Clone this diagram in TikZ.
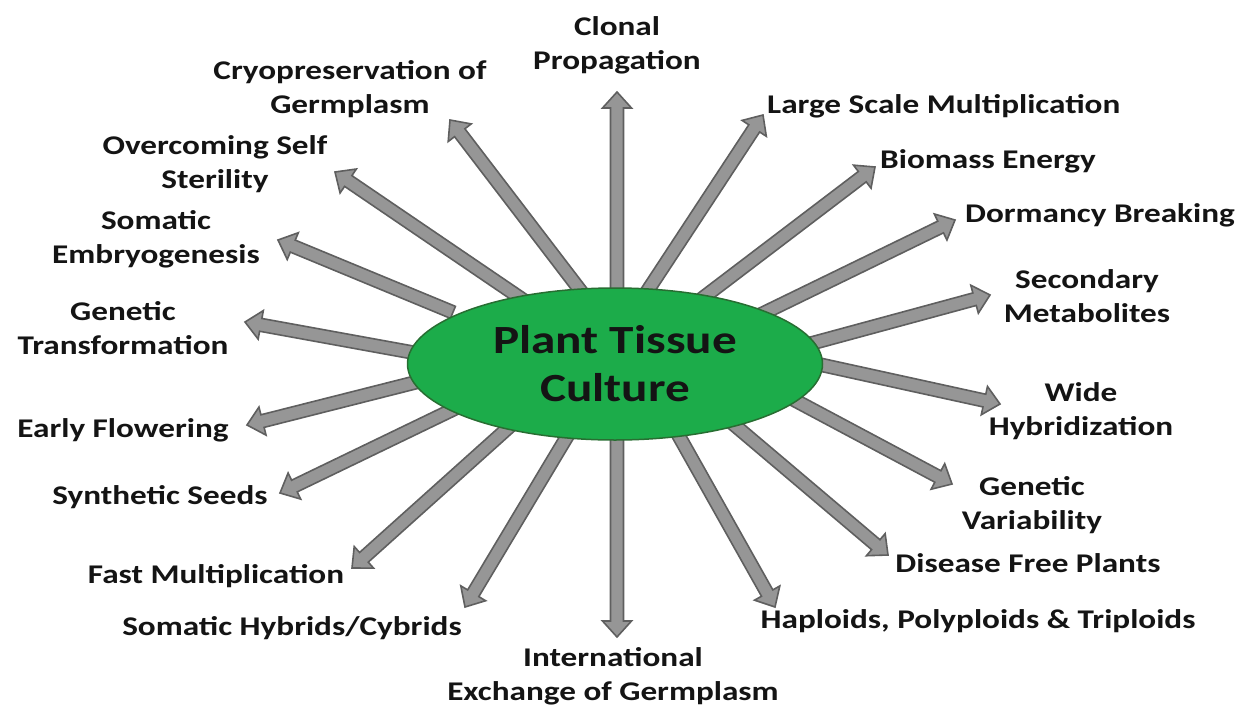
\documentclass[tikz,border=0pt]{standalone}
\usepackage{fontspec}
\setmainfont{Carlito}[FakeStretch=1.23]
\usetikzlibrary{calc,shapes.geometric}
\definecolor{ptcgreen}{RGB}{28,172,74}
\definecolor{ptcedge}{RGB}{40,110,50}
\definecolor{arrfill}{RGB}{150,150,150}
\definecolor{arredge}{RGB}{95,95,95}
\definecolor{txt}{RGB}{20,20,20}
\tikzset{
  arrowstyle/.style={fill=arrfill, draw=arredge, line width=1.6pt, line join=miter},
  lbl/.style={font=\bfseries\fontsize{27}{34}\selectfont, text=txt, align=center, inner sep=0pt},
  hub/.style={ellipse, minimum width=415pt, minimum height=152pt, inner sep=0pt,
    fill=ptcgreen, draw=ptcedge, line width=1.5pt,
    font=\bfseries\fontsize{40}{48}\selectfont, text=txt, align=center}
}
\newcommand\blockarr[2]{%
  \coordinate (bs) at ($(#1)!-14pt!(#2)$);
  \coordinate (hb) at ($(#2)!16pt!(#1)$);
  \draw[arrowstyle] ($(bs)!6.5pt!90:(#2)$) -- ($(hb)!6.5pt!90:(#2)$) -- ($(hb)!14.5pt!90:(#2)$) -- (#2)
    -- ($(hb)!14.5pt!-90:(#2)$) -- ($(hb)!6.5pt!-90:(#2)$) -- ($(bs)!6.5pt!-90:(#2)$) -- cycle;}
\begin{document}
\begin{tikzpicture}[x=1pt,y=-1pt]
\useasboundingbox (0,0) rectangle (1242,707);
% labels
\node[lbl] (clonal) at (617,45) {Clonal\\Propagation};
\node[lbl] (cryo) at (350,89) {Cryopreservation of\\Germplasm};
\node[lbl, anchor=west] (large) at (767,106) {Large Scale Multiplication};
\node[lbl] (overcome) at (215,164) {Overcoming Self\\Sterility};
\node[lbl, anchor=west] (biomass) at (880,161) {Biomass Energy};
\node[lbl] (dormancy) at (1100,215) {Dormancy Breaking};
\node[lbl] (somemb) at (156,239) {Somatic\\Embryogenesis};
\node[lbl] (secondary) at (1087,296) {Secondary\\Metabolites};
\node[lbl] (gentrans) at (123,328) {Genetic\\Transformation};
\node[lbl] (wide) at (1081,411) {Wide\\Hybridization};
\node[lbl] (early) at (123,430) {Early Flowering};
\node[lbl] (synth) at (160,497) {Synthetic Seeds};
\node[lbl] (genvar) at (1032,505) {Genetic\\Variability};
\node[lbl] (disease) at (1028,563) {Disease Free Plants};
\node[lbl] (fast) at (216,576) {Fast Multiplication};
\node[lbl] (haploids) at (978,621) {Haploids, Polyploids \& Triploids};
\node[lbl] (somhyb) at (292,628) {Somatic Hybrids/Cybrids};
\node[lbl] (intl) at (613,676) {International\\Exchange of Germplasm};
% arrow starts (on hub border) and tips
\coordinate (s1) at (617,287);  \coordinate (t1) at (617,92);
\coordinate (s2) at (650,287);  \coordinate (t2) at (763,115);
\coordinate (s3) at (708,294);  \coordinate (t3) at (875,167);
\coordinate (s4) at (770,310);  \coordinate (t4) at (955,220);
\coordinate (s5) at (813,343);  \coordinate (t5) at (990,295);
\coordinate (s6) at (822,365);  \coordinate (t6) at (1000,404);
\coordinate (s7) at (800,403);  \coordinate (t7) at (952,484);
\coordinate (s8) at (738,428);  \coordinate (t8) at (888,555);
\coordinate (s9) at (680,438);  \coordinate (t9) at (775,607);
\coordinate (s10) at (617,440); \coordinate (t10) at (617,637);
\coordinate (s11) at (565,440); \coordinate (t11) at (465,607);
\coordinate (s12) at (508,428); \coordinate (t12) at (352,568);
\coordinate (s13) at (452,410); \coordinate (t13) at (280,493);
\coordinate (s14) at (413,383); \coordinate (t14) at (247,425);
\coordinate (s15) at (410,352); \coordinate (t15) at (245,322);
\coordinate (s16) at (440,307); \coordinate (t16) at (278,240);
\coordinate (s17) at (513,293); \coordinate (t17) at (335,172);
\coordinate (s18) at (580,290); \coordinate (t18) at (450,120);
\foreach \i in {1,...,18} {\blockarr{s\i}{t\i}}
% hub
\node[hub] (ptc) at (615,364) {Plant Tissue\\Culture};
\end{tikzpicture}
\end{document}
